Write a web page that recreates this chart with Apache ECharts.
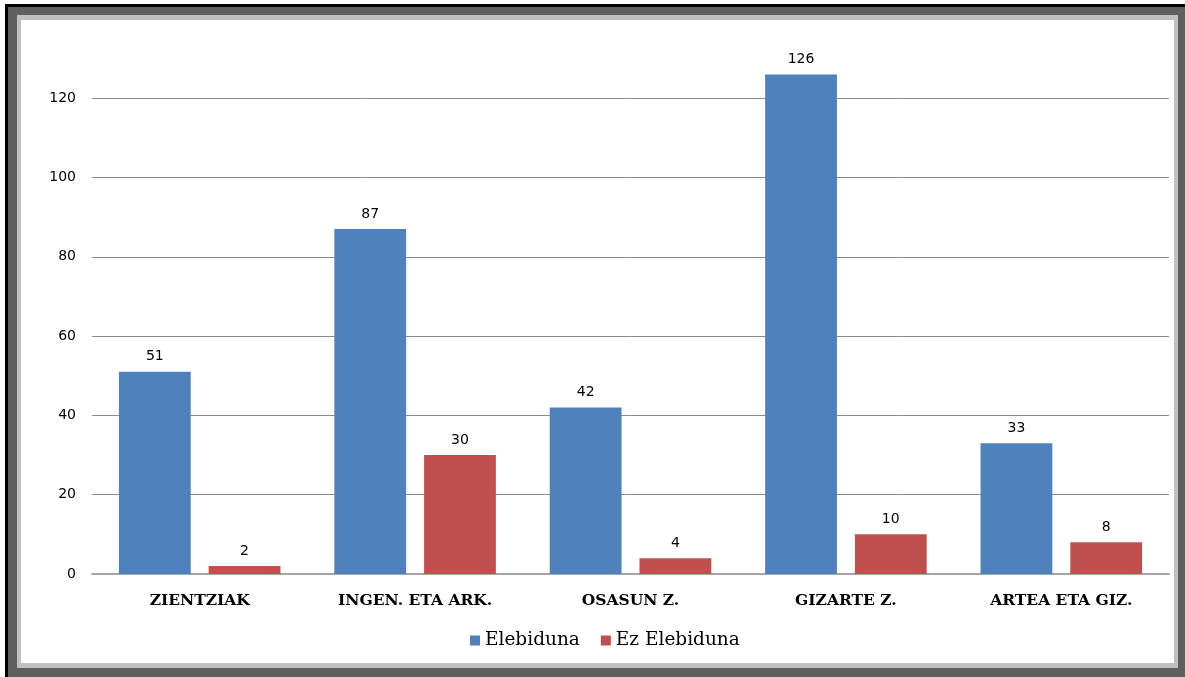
<!DOCTYPE html>
<html>
<head>
<meta charset="utf-8">
<script src="https://cdn.jsdelivr.net/npm/echarts@6/dist/echarts.min.js"></script>
<style>
  html, body { margin: 0; padding: 0; width: 1185px; height: 677px; background: #ffffff; overflow: hidden; }
  .f { position: absolute; }
  #black { left: 5px; top: 4px; right: 0; bottom: 0; background: #000000; }
  #dark { left: 8px; top: 7px; right: 0; bottom: 0; background: #5f5f5f; }
  #light { left: 17px; top: 15px; width: 1161px; height: 653px; background: #c0c0c0; }
  #clip { left: 21px; top: 20px; width: 1153px; height: 643px; background: #ffffff; overflow: hidden; }
  #chart { position: absolute; left: 0; top: -3px; width: 1153px; height: 646px; }
</style>
</head>
<body>
<div class="f" id="black"></div>
<div class="f" id="dark"></div>
<div class="f" id="light"></div>
<div class="f" id="clip"><div id="chart"></div></div>
<script>
const categories = ['ZIENTZIAK', 'INGEN. ETA ARK.', 'OSASUN Z.', 'GIZARTE Z.', 'ARTEA ETA GIZ.'];
const seriesNames = ['Elebiduna', 'Ez Elebiduna'];
const elebiduna = [51, 87, 42, 126, 33];
const ezElebiduna = [2, 30, 4, 10, 8];
const yTicks = [0, 20, 40, 60, 80, 100, 120, 140];

const chart = echarts.init(document.getElementById('chart'), null, { renderer: 'canvas' });
const labelStyle = {
  show: true,
  position: 'top',
  distance: 8,
  color: '#000000',
  fontFamily: 'DejaVu Sans',
  fontSize: 14
};
chart.setOption({
  animation: false,
  backgroundColor: '#ffffff',
  color: ['#4F81BD', '#C0504D'],
  grid: { left: 71, right: 5, top: 2, bottom: 89, containLabel: false },
  legend: {
    data: seriesNames,
    left: 444,
    top: 609,
    itemWidth: 10,
    itemHeight: 10,
    itemGap: 21,
    icon: 'rect',
    textStyle: { fontFamily: "'DejaVu Serif'", fontSize: 18.5, color: '#000000' }
  },
  xAxis: {
    type: 'category',
    data: categories,
    axisLine: { show: true, lineStyle: { color: '#a6a6a6', width: 2 } },
    axisTick: { show: false },
    axisLabel: {
      margin: 19,
      color: '#000000',
      fontFamily: "'DejaVu Serif'",
      fontWeight: 'bold',
      fontSize: 15.5
    }
  },
  yAxis: {
    type: 'value',
    min: yTicks[0],
    max: yTicks[yTicks.length - 1],
    interval: yTicks[1] - yTicks[0],
    axisLine: { show: false },
    axisTick: { show: false },
    axisLabel: {
      margin: 16,
      color: '#000000',
      fontFamily: 'DejaVu Sans',
      fontSize: 14,
      showMaxLabel: false
    },
    splitLine: { show: true, lineStyle: { color: '#8c8c8c', width: 1 } }
  },
  series: [
    {
      name: seriesNames[0],
      type: 'bar',
      data: elebiduna,
      barGap: '25%',
      barCategoryGap: '25%',
      label: labelStyle
    },
    {
      name: seriesNames[1],
      type: 'bar',
      data: ezElebiduna,
      barGap: '25%',
      barCategoryGap: '25%',
      label: labelStyle
    }
  ]
});
</script>
</body>
</html>
